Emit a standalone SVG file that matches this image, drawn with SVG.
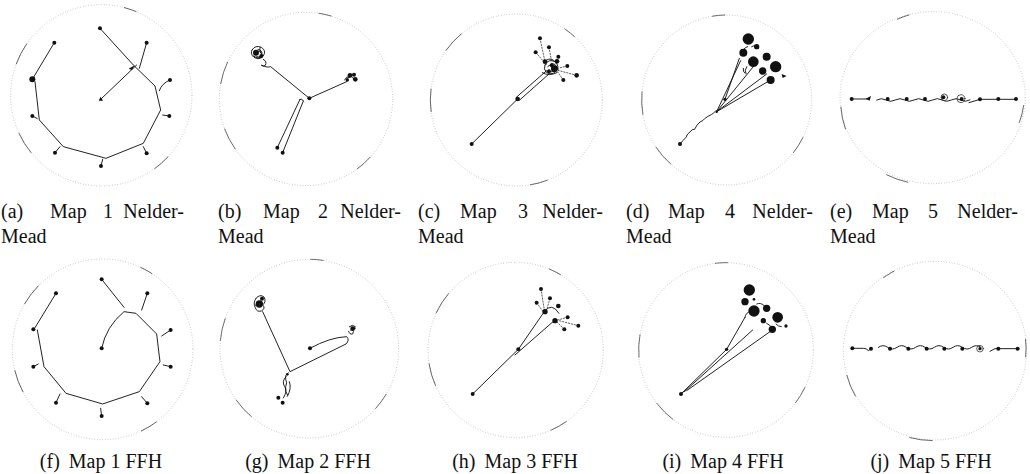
<svg xmlns="http://www.w3.org/2000/svg" width="1030" height="474" viewBox="0 0 1030 474">
<style>
  .cap { font-family: "Liberation Serif", "Times New Roman", serif; font-size: 20px; fill: #111; }
  .rim { fill: none; stroke: #a0a0a0; stroke-width: 2.4; stroke-dasharray: 2 6; }
  .rimdark { fill: none; stroke: #555; stroke-width: 2.4; stroke-dasharray: 70 330 40 520 55 410; }
  .ink { fill: none; stroke: #111; stroke-width: 2.8; stroke-linecap: round; stroke-linejoin: round; }
  .thin { fill: none; stroke: #222; stroke-width: 2.2; stroke-linecap: round; }
  .dot { fill: #111; }
</style>
<rect width="1030" height="474" fill="#fff"/>

<!-- Panel (a): Map 1, Nelder-Mead -->
<g id="panel-a" transform="translate(0,0) scale(0.3333)">
  <circle class="rim" cx="304" cy="286" r="272"/>
  <circle class="rimdark" cx="304" cy="286" r="272" transform="rotate(200 304 286)"/>
  <path class="ink" d="M300,85 L400,195 L465,258 L482,330 L430,430 L318,475 L190,440 L118,360 L105,245"/>
  <path class="ink" d="M97,238 L163,128"/>
  <path class="ink" d="M302,298 L410,195"/>
  <path class="ink" d="M440,128 L418,205 M510,240 Q485,250 478,272 M508,348 L488,345 M440,460 L430,440 M303,498 L308,478 M165,458 L180,440 M97,348 L112,356"/>
  <path class="dot" d="M386,206 L404,196 L396,210 Z M296,302 L302,290 L309,302 Z"/>
  <circle class="dot" cx="97" cy="238" r="9"/>
  <g class="dot">
    <circle cx="300" cy="85" r="6"/><circle cx="163" cy="128" r="6"/><circle cx="440" cy="128" r="6"/>
    <circle cx="510" cy="240" r="6"/><circle cx="508" cy="348" r="6"/><circle cx="440" cy="460" r="6"/>
    <circle cx="303" cy="498" r="6"/><circle cx="165" cy="458" r="6"/><circle cx="97" cy="348" r="6"/>
  </g>
</g>

<!-- Panel (b): Map 2, Nelder-Mead -->
<g id="panel-b" transform="translate(200,0) scale(0.3333)">
  <circle class="rim" cx="318" cy="297" r="260"/>
  <circle class="rimdark" cx="318" cy="297" r="260" transform="rotate(190 318 297)"/>
  <path class="ink" d="M156,150 q10,-16 28,-8 q16,10 6,26 q-12,14 -28,4 q-12,-10 -6,-22 M164,158 q12,-10 20,2 q0,14 -14,10 M174,148 q14,2 12,16 M160,168 q10,10 24,4 M190,178 q12,6 6,18 q-6,6 -12,0 M180,142 q-4,10 4,18"/>
  <circle class="dot" cx="168" cy="158" r="9"/>
  <circle class="dot" cx="184" cy="168" r="6"/>
  <path class="ink" d="M186,196 q16,8 26,4 L328,295 L440,245"/>
  <path class="ink" d="M300,298 L232,443 M310,303 L248,458 M300,298 q6,-4 10,5"/>
  <path class="ink" d="M434,240 q6,-14 14,-8 M450,228 q10,2 12,10 M440,236 l12,-6"/>
  <g class="dot">
    <circle cx="328" cy="295" r="6"/><circle cx="232" cy="443" r="6"/><circle cx="248" cy="458" r="6"/>
    <circle cx="450" cy="226" r="7"/><circle cx="466" cy="238" r="7"/><circle cx="462" cy="224" r="6"/>
    <circle cx="442" cy="240" r="5"/>
  </g>
</g>

<!-- Panel (c): Map 3, Nelder-Mead -->
<g id="panel-c" transform="translate(405,0) scale(0.3333)">
  <circle class="rim" cx="334" cy="300" r="258"/>
  <circle class="rimdark" cx="334" cy="300" r="258" transform="rotate(215 334 300)"/>
  <path class="ink" d="M200,432 L338,297"/>
  <path class="ink" d="M334,292 L425,212 M344,300 L432,222"/>
  <path class="ink" d="M420,195 q10,-20 30,-10 q16,14 2,30 q-14,12 -28,2 q-10,-10 -4,-22 M428,200 q10,-10 20,0 q4,14 -10,16 M440,190 q18,4 20,22 M412,218 q20,12 44,0 M425,180 q14,-8 24,4"/>
  <path class="thin" stroke-dasharray="4 5" d="M405,115 L420,185 M432,142 L440,185 M392,157 L425,195 M460,170 L448,195 M487,198 L458,205 M515,226 L462,212 M475,240 L455,212"/>
  <g class="dot">
    <circle cx="200" cy="432" r="6"/><circle cx="338" cy="297" r="7"/>
    <circle cx="405" cy="115" r="6"/><circle cx="432" cy="142" r="6"/><circle cx="392" cy="157" r="6"/>
    <circle cx="460" cy="170" r="6"/><circle cx="487" cy="198" r="6"/><circle cx="515" cy="226" r="7"/>
    <circle cx="475" cy="240" r="6"/><circle cx="420" cy="185" r="7"/><circle cx="448" cy="206" r="10"/>
    <circle cx="456" cy="184" r="7"/><circle cx="432" cy="214" r="6"/><circle cx="440" cy="196" r="6"/>
  </g>
</g>

<!-- Panel (d): Map 4, Nelder-Mead -->
<g id="panel-d" transform="translate(610,0) scale(0.3333)">
  <circle class="rim" cx="350" cy="300" r="255"/>
  <circle class="rimdark" cx="350" cy="300" r="255" transform="rotate(170 350 300)"/>
  <path class="ink" d="M210,432 q10,-12 18,-20 q4,-12 12,-16 q6,-10 14,-8 q6,-14 16,-22 q10,-4 14,-10 q10,-8 20,-12 q6,-4 10,-8"/>
  <path class="ink" d="M320,335 L392,182 M320,335 L430,200 M320,335 L482,240 M320,335 L470,222 M345,298 L388,175"/>
  <path class="ink" d="M395,160 q4,-16 18,-20 M425,140 q14,-8 20,6 M410,200 q-8,12 -2,22 M400,205 q-2,10 4,14"/>
  <g class="dot">
    <circle cx="415" cy="117" r="17"/><circle cx="400" cy="158" r="12"/><circle cx="430" cy="185" r="16"/>
    <circle cx="470" cy="170" r="12"/><circle cx="497" cy="200" r="17"/><circle cx="458" cy="213" r="11"/>
    <circle cx="482" cy="240" r="12"/><circle cx="440" cy="140" r="8"/><circle cx="210" cy="432" r="6"/>
    <circle cx="345" cy="298" r="5"/><circle cx="320" cy="335" r="4"/>
  </g>
  <path class="dot" d="M515,222 L530,228 L518,234 Z"/>
</g>

<!-- Panel (e): Map 5, Nelder-Mead -->
<g id="panel-e" transform="translate(815,0) scale(0.3333)">
  <ellipse class="rim" cx="353" cy="293" rx="278" ry="258"/>
  <ellipse class="rimdark" cx="353" cy="293" rx="278" ry="258" transform="rotate(160 353 293)"/>
  <path class="ink" d="M108,297 H158 M185,300 q14,-8 28,0 t28,0 t28,0 t28,0 t28,0 t28,0 t28,0 t28,0 t28,0 t28,0"/>
  <path class="ink" d="M462,308 L495,298 H605"/>
  <circle class="thin" cx="388" cy="292" r="10"/>
  <circle class="thin" cx="438" cy="296" r="12"/>
  <path class="dot" d="M152,296 L168,288 L164,302 Z"/>
  <g class="dot">
    <circle cx="110" cy="297" r="6"/><circle cx="218" cy="297" r="6"/><circle cx="275" cy="297" r="6"/>
    <circle cx="330" cy="297" r="6"/><circle cx="385" cy="292" r="6"/><circle cx="440" cy="297" r="6"/>
    <circle cx="495" cy="298" r="6"/><circle cx="550" cy="297" r="6"/><circle cx="603" cy="297" r="6"/>
  </g>
</g>

<!-- Panel (f): Map 1, FFH -->
<g id="panel-f" transform="translate(0,230) scale(0.3333)">
  <circle class="rim" cx="308" cy="358" r="271"/>
  <circle class="rimdark" cx="308" cy="358" r="271" transform="rotate(210 308 358)"/>
  <path class="ink" d="M305,148 L372,232"/>
  <path class="ink" d="M305,355 Q318,290 372,245 L408,250 L470,312 L480,395 L418,485 L308,522 L198,490 L132,410 L112,300"/>
  <path class="ink" d="M102,298 L168,190"/>
  <path class="ink" d="M442,190 L425,240 M512,300 L485,318 M512,410 L490,405 M442,520 L425,500 M305,558 L302,535 M168,518 L180,492 M100,410 L115,402"/>
  <g class="dot">
    <circle cx="305" cy="148" r="6"/><circle cx="305" cy="355" r="6"/><circle cx="100" cy="298" r="6"/>
    <circle cx="168" cy="190" r="6"/><circle cx="442" cy="190" r="6"/><circle cx="512" cy="300" r="6"/>
    <circle cx="512" cy="410" r="6"/><circle cx="442" cy="520" r="6"/><circle cx="305" cy="558" r="6"/>
    <circle cx="168" cy="518" r="6"/><circle cx="100" cy="410" r="6"/>
  </g>
</g>

<!-- Panel (g): Map 2, FFH -->
<g id="panel-g" transform="translate(200,230) scale(0.3333)">
  <circle class="rim" cx="328" cy="356" r="268"/>
  <circle class="rimdark" cx="328" cy="356" r="268" transform="rotate(185 328 356)"/>
  <path class="ink" d="M168,205 q12,-14 24,-4 q8,14 -4,24 q10,10 -4,18 q-14,4 -18,-10 q-8,-14 2,-28 M176,215 q8,-6 12,4 M166,226 q10,6 20,-4"/>
  <circle class="dot" cx="178" cy="222" r="11"/>
  <circle class="dot" cx="186" cy="206" r="6"/>
  <path class="ink" d="M188,245 L270,425 L438,342 Q450,330 440,320 Q390,322 330,355"/>
  <path class="ink" d="M448,290 q10,-8 18,0 q-2,10 -10,8 q8,6 2,14 q-10,2 -12,-8 M452,300 l14,-4"/>
  <path class="ink" d="M265,428 q-12,8 -8,20 q6,10 0,22 q-4,14 6,26 M258,440 q-14,14 -4,30 q10,12 -4,34 M268,455 q8,20 -6,44"/>
  <g class="dot">
    <circle cx="330" cy="355" r="6"/><circle cx="458" cy="296" r="7"/><circle cx="235" cy="503" r="6"/>
    <circle cx="248" cy="518" r="6"/><circle cx="262" cy="433" r="4"/>
  </g>
</g>

<!-- Panel (h): Map 3, FFH -->
<g id="panel-h" transform="translate(405,230) scale(0.3333)">
  <circle class="rim" cx="332" cy="360" r="263"/>
  <circle class="rimdark" cx="332" cy="360" r="263" transform="rotate(205 332 360)"/>
  <path class="ink" d="M203,492 L340,358 L418,245 M330,375 L450,270"/>
  <path class="ink" d="M418,245 Q440,215 462,250"/>
  <path class="thin" stroke-dasharray="4 5" d="M408,177 L418,240 M395,218 L412,242 M435,205 L425,240 M488,262 L458,270 M520,287 L462,272 M478,298 L455,275"/>
  <g class="dot">
    <circle cx="203" cy="492" r="6"/><circle cx="340" cy="358" r="6"/>
    <circle cx="408" cy="177" r="6"/><circle cx="395" cy="218" r="6"/><circle cx="435" cy="205" r="6"/>
    <circle cx="460" cy="228" r="7"/><circle cx="420" cy="245" r="8"/><circle cx="450" cy="272" r="8"/>
    <circle cx="478" cy="298" r="6"/><circle cx="488" cy="262" r="6"/><circle cx="520" cy="287" r="6"/>
  </g>
</g>

<!-- Panel (i): Map 4, FFH -->
<g id="panel-i" transform="translate(610,230) scale(0.3333)">
  <circle class="rim" cx="348" cy="360" r="262"/>
  <circle class="rimdark" cx="348" cy="360" r="262" transform="rotate(175 348 360)"/>
  <path class="ink" d="M213,492 L350,358 L405,262 M222,486 L428,300 M230,482 L490,298"/>
  <path class="ink" d="M405,262 q2,-14 16,-18 M440,222 q12,-6 24,6 M470,280 q10,4 14,12 M498,282 q6,8 16,8"/>
  <g class="dot">
    <circle cx="418" cy="180" r="17"/><circle cx="405" cy="215" r="11"/><circle cx="432" cy="243" r="17"/>
    <circle cx="470" cy="235" r="11"/><circle cx="503" cy="262" r="16"/><circle cx="460" cy="272" r="8"/>
    <circle cx="487" cy="298" r="11"/><circle cx="528" cy="288" r="5"/><circle cx="432" cy="208" r="4"/>
    <circle cx="213" cy="492" r="6"/><circle cx="350" cy="358" r="5"/>
  </g>
</g>

<!-- Panel (j): Map 5, FFH -->
<g id="panel-j" transform="translate(815,230) scale(0.3333)">
  <ellipse class="rim" cx="360" cy="362" rx="275" ry="268"/>
  <ellipse class="rimdark" cx="360" cy="362" rx="275" ry="268" transform="rotate(150 360 362)"/>
  <path class="ink" d="M112,355 H145 Q155,355 160,362 L168,356"/>
  <path class="ink" d="M190,352 q14,-10 28,0 t28,0 t28,0 t28,0 t28,0 t28,0 t28,0 t28,0 t28,0 t28,0 t28,0"/>
  <circle class="thin" cx="495" cy="356" r="10"/>
  <path class="ink" d="M525,364 L540,356 H610"/>
  <g class="dot">
    <circle cx="112" cy="355" r="6"/><circle cx="168" cy="356" r="6"/><circle cx="225" cy="356" r="6"/>
    <circle cx="280" cy="356" r="6"/><circle cx="335" cy="356" r="6"/><circle cx="388" cy="356" r="6"/>
    <circle cx="442" cy="356" r="6"/><circle cx="495" cy="356" r="5"/><circle cx="550" cy="356" r="6"/>
    <circle cx="608" cy="356" r="6"/>
  </g>
</g>

<!-- Captions -->
<g id="captions" class="cap" font-family="'Liberation Serif', 'Times New Roman', serif" font-size="20">
  <text x="1" y="218">(a)</text><text x="50" y="218">Map</text><text x="103" y="218">1</text><text x="184" y="218" text-anchor="end">Nelder-</text>
  <text x="1" y="243">Mead</text>
  <text x="218" y="218">(b)</text><text x="263" y="218">Map</text><text x="318" y="218">2</text><text x="401" y="218" text-anchor="end">Nelder-</text>
  <text x="218" y="243">Mead</text>
  <text x="418" y="218">(c)</text><text x="460" y="218">Map</text><text x="518" y="218">3</text><text x="603" y="218" text-anchor="end">Nelder-</text>
  <text x="418" y="243">Mead</text>
  <text x="626" y="218">(d)</text><text x="668" y="218">Map</text><text x="725" y="218">4</text><text x="813" y="218" text-anchor="end">Nelder-</text>
  <text x="626" y="243">Mead</text>
  <text x="830" y="218">(e)</text><text x="872" y="218">Map</text><text x="928" y="218">5</text><text x="1018" y="218" text-anchor="end">Nelder-</text>
  <text x="830" y="243">Mead</text>
  <text x="101" y="468" text-anchor="middle">(f)<tspan dx="9">Map 1 FFH</tspan></text>
  <text x="308" y="468" text-anchor="middle">(g)<tspan dx="9">Map 2 FFH</tspan></text>
  <text x="515" y="468" text-anchor="middle">(h)<tspan dx="9">Map 3 FFH</tspan></text>
  <text x="723" y="468" text-anchor="middle">(i)<tspan dx="9">Map 4 FFH</tspan></text>
  <text x="931" y="468" text-anchor="middle">(j)<tspan dx="9">Map 5 FFH</tspan></text>
</g>
</svg>
